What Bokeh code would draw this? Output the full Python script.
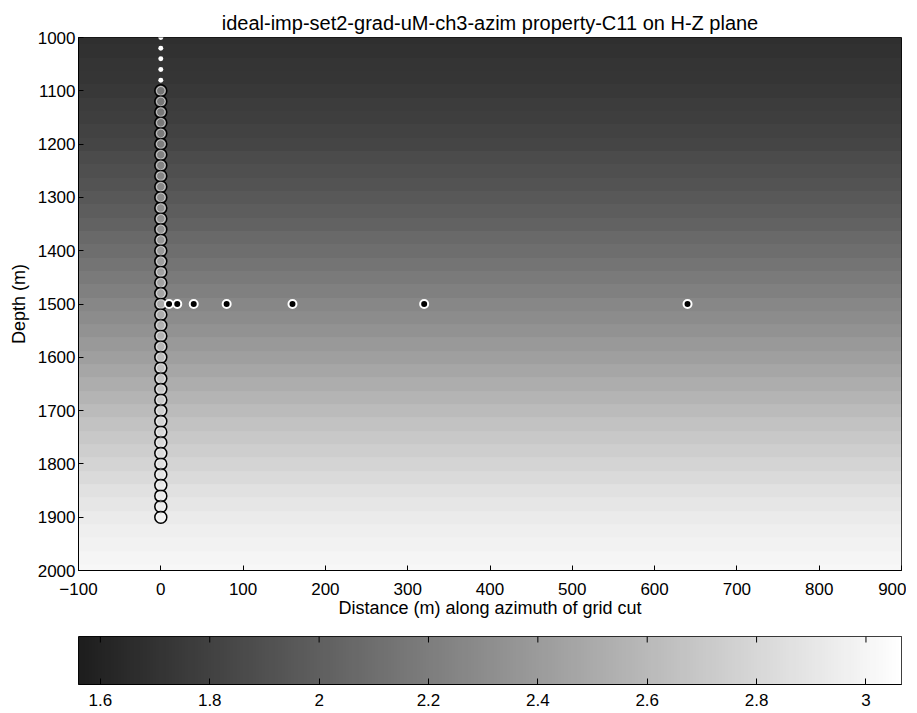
import numpy as np
from bokeh.plotting import figure
from bokeh.models import Range1d, LinearColorMapper, FixedTicker
from bokeh.layouts import column
from bokeh.embed import file_html
from bokeh.resources import INLINE

title_text = "ideal-imp-set2-grad-uM-ch3-azim property-C11 on H-Z plane"
x_label = "Distance (m) along azimuth of grid cut"
y_label = "Depth (m)"

grid_depths = [1000, 1025, 1050, 1075, 1100, 1125, 1150, 1175, 1200, 1225, 1250,
               1275, 1300, 1325, 1350, 1375, 1400, 1425, 1450, 1475, 1500,
               1525, 1550, 1575, 1600, 1625, 1650, 1675, 1700, 1725, 1750,
               1775, 1800, 1825, 1850, 1875, 1900, 1925, 1950, 1975, 2000]
c11_values = [1.68, 1.69, 1.71, 1.72, 1.74, 1.76, 1.78, 1.805, 1.83, 1.86, 1.89,
              1.92, 1.95, 1.985, 2.02, 2.06, 2.10, 2.14, 2.18, 2.22, 2.26,
              2.30, 2.34, 2.385, 2.43, 2.475, 2.52, 2.565, 2.61, 2.655, 2.70,
              2.74, 2.78, 2.82, 2.86, 2.895, 2.93, 2.955, 2.98, 2.995, 3.01]

x_ticks = [-100, 0, 100, 200, 300, 400, 500, 600, 700, 800, 900]
y_ticks = [1000, 1100, 1200, 1300, 1400, 1500, 1600, 1700, 1800, 1900, 2000]
cbar_ticks = [1.6, 1.8, 2.0, 2.2, 2.4, 2.6, 2.8, 3.0]
cbar_tick_labels = ["1.6", "1.8", "2", "2.2", "2.4", "2.6", "2.8", "3"]
c_min, c_max = 1.56, 3.065

# receivers in the well at offset 0
receiver_top_depths = [1000, 1020, 1040, 1060, 1080]
receiver_depths = [1100, 1120, 1140, 1160, 1180, 1200, 1220, 1240, 1260, 1280,
                   1300, 1320, 1340, 1360, 1380, 1400, 1420, 1440, 1460, 1480,
                   1500, 1520, 1540, 1560, 1580, 1600, 1620, 1640, 1660, 1680,
                   1700, 1720, 1740, 1760, 1780, 1800, 1820, 1840, 1860, 1880, 1900]
# sources at 1500 m depth
source_offsets = [10, 20, 40, 80, 160, 320, 640]
source_depths = [1500, 1500, 1500, 1500, 1500, 1500, 1500]

FONT = "Liberation Sans"
palette = ["#%02x%02x%02x" % (g, g, g) for g in np.linspace(30, 255, 256).astype(int)]
mapper = LinearColorMapper(palette=palette, low=c_min, high=c_max)

p = figure(frame_width=823, frame_height=533, min_border_left=77, min_border_right=6,
           min_border_top=37, min_border_bottom=55,
           x_range=Range1d(-100, 900), y_range=Range1d(2000, 1000),
           toolbar_location=None, output_backend="svg", title=title_text)
p.title.align = "center"
p.title.vertical_align = "top"
p.title.text_font = FONT
p.title.text_font_size = "20px"
p.title.text_font_style = "normal"
p.title.text_color = "black"
p.title.standoff = 4

step = grid_depths[1] - grid_depths[0]
field = np.array(c11_values, dtype=float).reshape(-1, 1)
p.image(image=[field], x=-100, y=grid_depths[0] - step / 2,
        dw=1000, dh=step * len(grid_depths), color_mapper=mapper)

p.scatter(x=[0] * len(receiver_top_depths), y=receiver_top_depths, size=5,
          fill_color="white", line_color=None)
p.scatter(x=[0] * len(receiver_depths), y=receiver_depths, size=12,
          fill_color="white", fill_alpha=0.3, line_color="black", line_width=1.5)
p.scatter(x=[0] * len(receiver_depths), y=receiver_depths, size=8.5,
          fill_color=None, line_color="white", line_alpha=0.6, line_width=1)
p.scatter(x=source_offsets, y=source_depths, size=8, fill_color="black",
          line_color="white", line_width=2)

p.xgrid.visible = False
p.ygrid.visible = False
p.outline_line_color = "black"
p.outline_line_width = 1
for ax in (p.xaxis[0], p.yaxis[0]):
    ax.major_tick_in = 5
    ax.major_tick_out = 0
    ax.minor_tick_line_color = None
    ax.axis_line_color = "black"
    ax.major_label_text_font = FONT
    ax.major_label_text_font_size = "17px"
    ax.major_label_text_color = "black"
    ax.axis_label_text_font = FONT
    ax.axis_label_text_font_size = "18px"
    ax.axis_label_text_font_style = "normal"
    ax.axis_label_text_color = "black"
p.xaxis.ticker = FixedTicker(ticks=x_ticks)
p.yaxis.ticker = FixedTicker(ticks=y_ticks)
p.xaxis.axis_label = x_label
p.yaxis.axis_label = y_label
p.xaxis.major_label_standoff = 12
p.yaxis.major_label_standoff = 3
p.xaxis.axis_label_standoff = 0
p.yaxis.axis_label_standoff = 6

# colour bar
p2 = figure(frame_width=823, frame_height=48, min_border_left=78, min_border_right=5,
            min_border_top=11, min_border_bottom=28,
            x_range=Range1d(c_min, c_max), y_range=Range1d(0, 1),
            y_axis_location=None, toolbar_location=None, output_backend="svg")
ramp = np.linspace(c_min, c_max, 256).reshape(1, -1)
p2.image(image=[ramp], x=c_min, y=0, dw=c_max - c_min, dh=1, color_mapper=mapper)
p2.segment(x0=cbar_ticks, y0=[1] * len(cbar_ticks), x1=cbar_ticks,
           y1=[0.875] * len(cbar_ticks), line_color="black", line_width=1)
p2.xgrid.visible = False
p2.ygrid.visible = False
p2.outline_line_color = "black"
cb_ax = p2.xaxis[0]
cb_ax.ticker = FixedTicker(ticks=cbar_ticks)
cb_ax.major_label_overrides = {t: l for t, l in zip(cbar_ticks, cbar_tick_labels)}
cb_ax.major_tick_in = 6
cb_ax.major_tick_out = 0
cb_ax.minor_tick_line_color = None
cb_ax.major_label_text_font = FONT
cb_ax.major_label_text_font_size = "17px"
cb_ax.major_label_text_color = "black"
cb_ax.major_label_standoff = 9

layout = column(p, p2, spacing=0)
open("out.html", "w").write(file_html(layout, INLINE))
